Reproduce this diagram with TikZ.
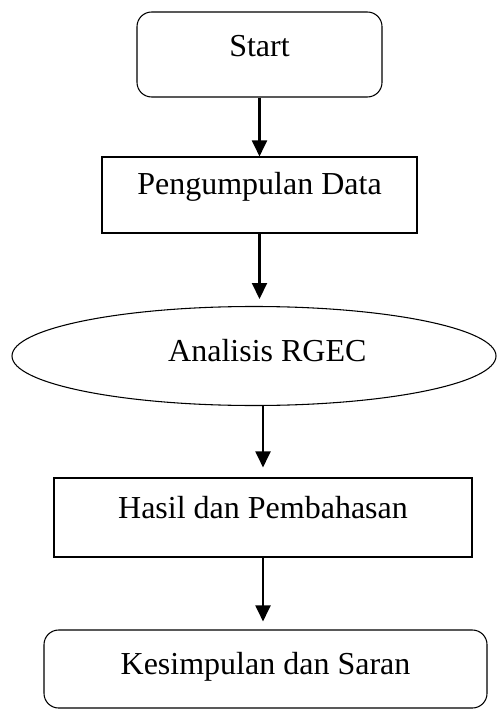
\documentclass[tikz,border=0pt]{standalone}
\usepackage{fontspec}
\setmainfont{Liberation Serif}
\usetikzlibrary{arrows.meta,shapes.geometric}

\tikzset{
    box/.style={draw, line width=0.4pt, inner sep=0pt, font=\fontsize{12}{14}\selectfont},
    roundbox/.style={box, rounded corners=5.5pt},
    flow/.style={line width=0.8pt, -{Triangle[width=5.6pt,length=6pt]}}
}

\begin{document}
\begin{tikzpicture}[x=0.375pt, y=-0.375pt]
\useasboundingbox (0,0) rectangle (496,709);

% steps, top to bottom
\node[roundbox, minimum width=245*0.375pt, text height=45*0.375pt, text depth=40*0.375pt] (start) at (259.5,54.5) {Start};
\node[box, minimum width=315*0.375pt, text height=38*0.375pt, text depth=38*0.375pt] (data) at (259.5,195) {Pengumpulan Data};
\node[box, ellipse, minimum width=484*0.375pt, minimum height=99*0.375pt, text height=8pt, text depth=4.25pt] (rgec) at (254,356) {\hspace{10pt}Analisis RGEC};
\node[box, minimum width=418*0.375pt, text height=40*0.375pt, text depth=39*0.375pt] (hasil) at (263,517.5) {Hasil dan Pembahasan};
\node[roundbox, minimum width=443*0.375pt, text height=44*0.375pt, text depth=34*0.375pt] (saran) at (265.5,669) {Kesimpulan dan Saran};

% arrows
\draw[flow] (start.south) -- (start.south |- data.north);
\draw[flow, shorten >=2.6pt] (data.south) -- (data.south |- rgec.north);
\draw[flow, shorten >=3.75pt] (hasil.north |- rgec.south) -- (hasil.north);
\draw[flow, shorten >=3pt] (hasil.south) -- (hasil.south |- saran.north);
\end{tikzpicture}
\end{document}
